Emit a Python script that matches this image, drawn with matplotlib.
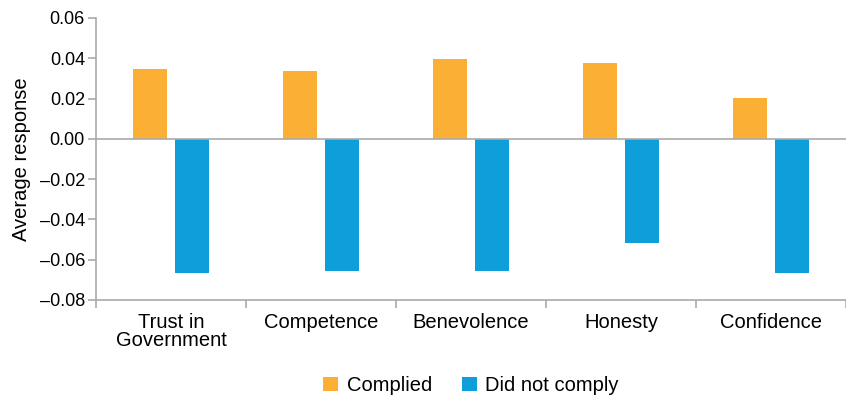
import matplotlib.pyplot as plt
import numpy as np

plt.rcParams['font.family'] = ['Liberation Sans', 'DejaVu Sans']

categories = ['Trust in\nGovernment', 'Competence', 'Benevolence', 'Honesty', 'Confidence']
complied = [0.0345, 0.0335, 0.0395, 0.0375, 0.0205]
not_comply = [-0.0665, -0.0655, -0.0655, -0.0515, -0.0665]

orange = '#FBAF35'
blue = '#0E9ED9'
grey = '#AAAAAA'

fig = plt.figure(figsize=(8.46, 4.0), dpi=100)
ax = fig.add_axes([0.1135, 0.25, 0.8865, 0.705])

x = np.arange(len(categories))
w = 0.227
ax.bar(x - 0.14, complied, w, color=orange, label='Complied')
ax.bar(x + 0.14, not_comply, w, color=blue, label='Did not comply')

ax.axhline(0, color=grey, lw=1.2)
ax.set_xlim(-0.5, len(categories) - 0.5)
ax.set_ylim(-0.08, 0.06)
yt = np.arange(-0.08, 0.061, 0.02)
ax.set_yticks(yt)
ax.set_yticklabels([f'{v:.2f}'.replace('-', '\u2013') for v in yt])

ax.set_xticks(np.arange(-0.5, len(categories)), minor=False)
ax.set_xticklabels([])
ax.set_xticks(x, minor=True)
ax.set_xticklabels(categories, minor=True, fontsize=14.5, linespacing=0.95, va='top')
ax.tick_params(axis='x', which='minor', length=0, pad=9)
ax.tick_params(axis='x', which='major', length=6, color=grey, width=1.2)
ax.tick_params(axis='y', length=6, color=grey, width=1.2, labelsize=13, pad=2)

for s in ['top', 'right']:
    ax.spines[s].set_visible(False)
for s in ['left', 'bottom']:
    ax.spines[s].set_color(grey)
    ax.spines[s].set_linewidth(1.2)

ax.set_ylabel('Average response', fontsize=14.5, labelpad=6)

ax.legend(loc='upper center', bbox_to_anchor=(0.5, -0.205), ncol=2, frameon=False,
          fontsize=14.5, handlelength=0.75, handleheight=0.75, handletextpad=0.4,
          columnspacing=1.5)

fig.savefig('out.png', dpi=100)
